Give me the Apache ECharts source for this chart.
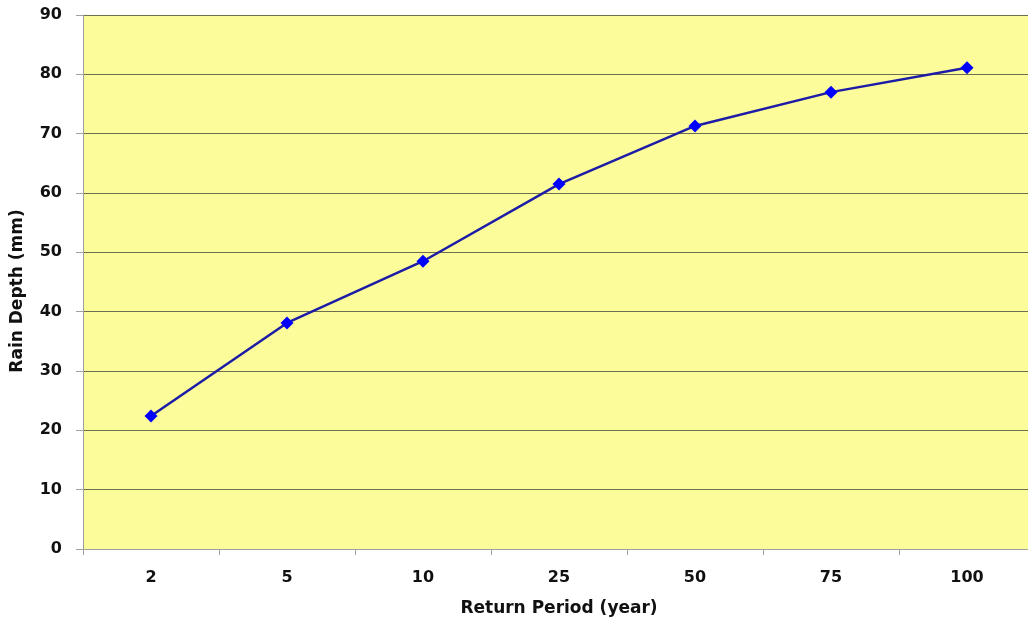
<!DOCTYPE html>
<html>
<head>
<meta charset="utf-8">
<script src="https://cdn.jsdelivr.net/npm/echarts@6/dist/echarts.min.js"></script>
<style>
  html, body { margin: 0; padding: 0; background: #ffffff; overflow: hidden; }
  /* the plot area runs a few pixels past the right edge of the window */
  #chart { width: 1035px; height: 619px; }
</style>
</head>
<body>
<div id="chart"></div>
<script>
// Return periods (years) and the matching rain depths (mm)
const returnPeriods = ['2', '5', '10', '25', '50', '75', '100'];
const rainDepth = [22.4, 38.1, 48.5, 61.5, 71.3, 77.0, 81.1];

const labelFont = { fontFamily: 'DejaVu Sans', fontWeight: 'bold', color: '#111111' };

const chart = echarts.init(document.getElementById('chart'), null, { renderer: 'canvas' });
chart.setOption({
  animation: false,
  backgroundColor: '#ffffff',
  grid: {
    left: 83, right: 0, top: 15, bottom: 70,
    outerBoundsMode: 'none',
    containLabel: false,
    show: true, backgroundColor: '#fdfc9b', borderWidth: 0
  },
  xAxis: {
    type: 'category',
    data: returnPeriods,
    boundaryGap: true,
    name: 'Return Period (year)',
    nameLocation: 'middle',
    nameGap: 51,
    nameTextStyle: Object.assign({ fontSize: 17 }, labelFont),
    axisLine: { lineStyle: { color: '#a0a0a0', width: 1 } },
    axisTick: { show: true, length: 6, lineStyle: { color: '#a0a0a0' } },
    axisLabel: Object.assign({ fontSize: 16, margin: 21 }, labelFont),
    splitLine: { show: false }
  },
  yAxis: {
    type: 'value',
    min: 0, max: 90, interval: 10,
    name: 'Rain Depth (mm)',
    nameLocation: 'middle',
    nameGap: 57,
    nameTextStyle: Object.assign({ fontSize: 17, padding: [0, 18, 0, 0] }, labelFont),
    axisLine: { show: true, lineStyle: { color: '#a0a0a0', width: 1 } },
    axisTick: { show: true, length: 7, lineStyle: { color: '#a0a0a0' } },
    axisLabel: Object.assign({ fontSize: 16, margin: 21 }, labelFont),
    splitLine: { show: true, lineStyle: { color: '#6e6e50', width: 1 } }
  },
  series: [{
    type: 'line',
    data: rainDepth,
    symbol: 'diamond',
    symbolSize: 13,
    lineStyle: { color: '#1c1ca6', width: 2.5 },
    itemStyle: { color: '#0000ff' },
    z: 3
  }]
});
</script>
</body>
</html>
